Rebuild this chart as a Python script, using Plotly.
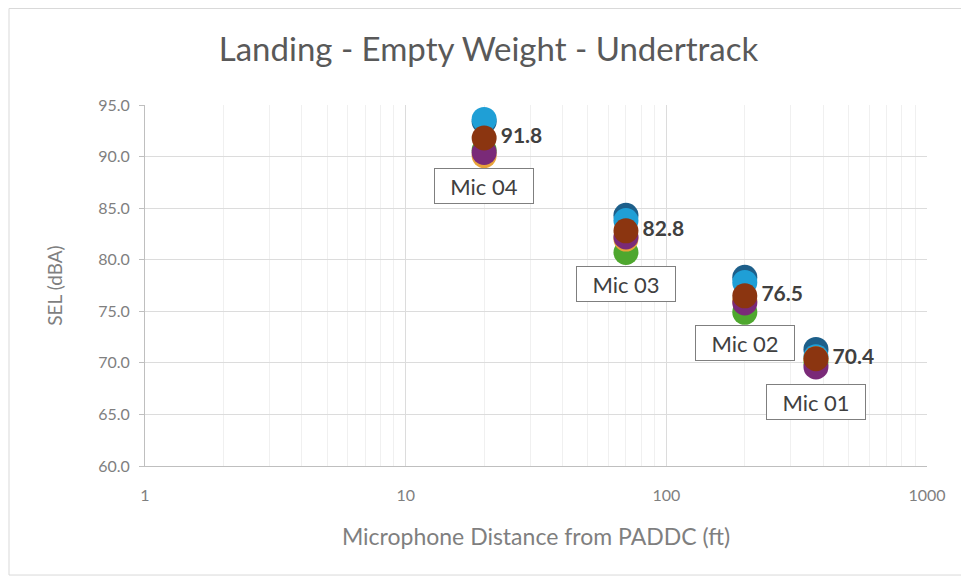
import math
import plotly.graph_objects as go

mics = ["Mic 04", "Mic 03", "Mic 02", "Mic 01"]
distance_ft = [20, 70, 200, 375]

run1 = [93.4, 84.3, 78.3, 71.3]   # dark blue
run2 = [93.6, 83.8, 77.8, 70.6]   # light blue
run3 = [90.6, 80.7, 74.9, 70.0]   # green
run4 = [90.1, 82.0, 76.0, 70.4]   # yellow/orange
run5 = [90.4, 82.2, 75.8, 69.6]   # purple
average = [91.8, 82.8, 76.5, 70.4]  # brown

series = [
    ("Run 1", run1, "#1d5f8a"),
    ("Run 2", run2, "#1f9fd6"),
    ("Run 3", run3, "#4ea72e"),
    ("Run 4", run4, "#e8a33a"),
    ("Run 5", run5, "#7a2a78"),
]

FONT = "Lato"

fig = go.Figure()
for name, vals, col in series:
    fig.add_trace(go.Scatter(x=distance_ft, y=vals, mode="markers", name=name,
                             marker=dict(size=25, color=col, line=dict(width=0))))
fig.add_trace(go.Scatter(x=distance_ft, y=average, mode="markers+text", name="Average",
                         marker=dict(size=25, color="#8b3510", line=dict(width=0)),
                         text=[f"<b>{v:.1f}</b>" for v in average], textposition="middle right",
                         textfont=dict(family=FONT, size=21, color="#404040")))

label_offsets = [-48, -53, -47, -43]
for m, d, v, off in zip(mics, distance_ft, average, label_offsets):
    fig.add_annotation(x=math.log10(d), y=v, xref="x", yref="y", text=m, showarrow=False,
                       yshift=off, font=dict(family=FONT, size=22, color="#404040"),
                       bgcolor="white", bordercolor="#7f7f7f", borderwidth=1, borderpad=5,
                       width=88, height=24)

fig.add_shape(type="rect", xref="paper", yref="paper", x0=-0.1739, x1=1.0448, y0=-0.302, y1=1.2673,
              line=dict(color="#d9d9d9", width=1), layer="below")

grid_major = "#dcdcdc"
fig.update_layout(
    width=961, height=573,
    margin=dict(l=137, r=42, t=97, b=115),
    paper_bgcolor="white", plot_bgcolor="white",
    showlegend=False,
    title=dict(text="Landing - Empty Weight - Undertrack", x=0.5, xanchor="center",
               y=0.927, yanchor="middle",
               font=dict(family=FONT, size=33, color="#595959")),
    font=dict(family=FONT, color="#7f7f7f"),
    xaxis=dict(type="log", range=[0, 3], tickvals=[1, 10, 100, 1000], ticktext=["1", "10", "100", "1000"],
               showgrid=True, gridcolor=grid_major, gridwidth=1,
               minor=dict(showgrid=True, gridcolor="#f0f0f0", ticks="", dtick="D1"),
               showline=True, linecolor="#bfbfbf", mirror=False, ticks="",
               tickfont=dict(size=16, color="#7f7f7f"), ticklabelstandoff=15,
               title=dict(text="Microphone Distance from PADDC (ft)", font=dict(size=23, color="#7f7f7f"),
                          standoff=25),
               zeroline=False),
    yaxis=dict(range=[60, 95], dtick=5, tickformat=".1f",
               showgrid=True, gridcolor=grid_major, gridwidth=1,
               showline=True, linecolor="#bfbfbf", ticks="outside", ticklen=5, tickcolor="#bfbfbf",
               tickfont=dict(size=16, color="#7f7f7f"), ticklabelstandoff=6,
               title=dict(text="SEL (dBA)", font=dict(size=19, color="#7f7f7f"), standoff=30),
               zeroline=False),
)

fig.write_html("out.html")
